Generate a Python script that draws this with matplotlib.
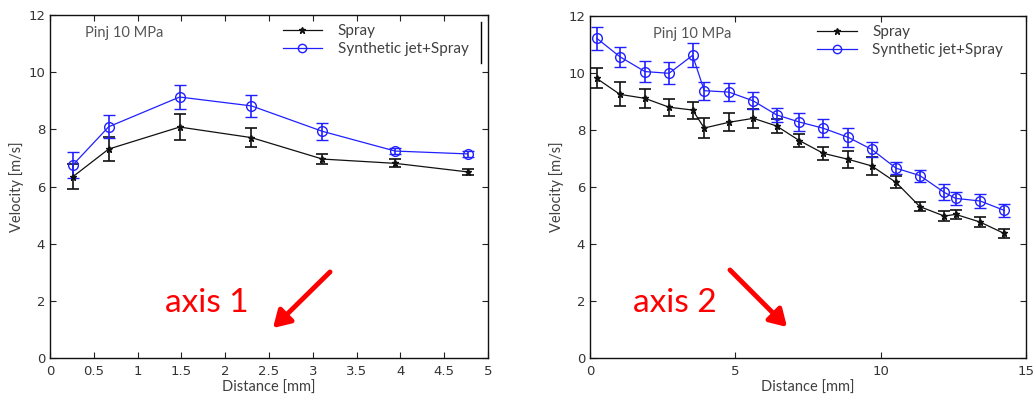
import numpy as np
import matplotlib
matplotlib.use("Agg")
import matplotlib.pyplot as plt
from matplotlib.lines import Line2D
from matplotlib.patches import FancyArrowPatch

# axis 1 data
x1 = [0.26, 0.67, 1.48, 2.30, 3.11, 3.94, 4.77]
spray1 = [6.34, 7.31, 8.08, 7.71, 6.96, 6.81, 6.51]
spray1_err = [0.43, 0.41, 0.44, 0.33, 0.16, 0.14, 0.10]
jet1 = [6.75, 8.09, 9.13, 8.82, 7.93, 7.24, 7.14]
jet1_err = [0.45, 0.41, 0.43, 0.38, 0.29, 0.12, 0.11]

# axis 2 data
x2 = [0.23, 1.03, 1.89, 2.72, 3.53, 3.93, 4.78, 5.62, 6.42, 7.20,
      8.03, 8.89, 9.69, 10.53, 11.35, 12.19, 12.58, 13.42, 14.25]
spray2 = [9.81, 9.25, 9.11, 8.80, 8.70, 8.07, 8.27, 8.41, 8.14, 7.63,
          7.18, 6.97, 6.74, 6.16, 5.31, 4.98, 5.04, 4.77, 4.37]
spray2_err = [0.35, 0.42, 0.34, 0.30, 0.30, 0.34, 0.32, 0.33, 0.25, 0.24,
              0.22, 0.31, 0.31, 0.21, 0.15, 0.18, 0.15, 0.18, 0.16]
jet2 = [11.22, 10.57, 10.05, 9.99, 10.62, 9.38, 9.33, 9.02, 8.53, 8.28,
        8.06, 7.74, 7.32, 6.66, 6.40, 5.81, 5.60, 5.51, 5.18]
jet2_err = [0.40, 0.35, 0.38, 0.38, 0.42, 0.31, 0.31, 0.30, 0.25, 0.33,
            0.31, 0.32, 0.27, 0.21, 0.21, 0.28, 0.23, 0.26, 0.23]

xticks1 = [0, 0.5, 1, 1.5, 2, 2.5, 3, 3.5, 4, 4.5, 5]
xticklabels1 = ['0', '0.5', '1', '1.5', '2', '2.5', '3', '3.5', '4', '4.5', '5']
xticks2 = [0, 5, 10, 15]
yticks = [0, 2, 4, 6, 8, 10, 12]

label_font = ['Lato', 'DejaVu Sans']
tick_color = '#333333'
blue = '#2020ff'

fig = plt.figure(figsize=(10.35, 4.03), dpi=100)
ax1 = fig.add_axes([50/1035, 45/403, 438/1035, 343/403])
ax2 = fig.add_axes([590/1035, 45/403, 436/1035, 342/403])


def draw(ax, x, sp, sp_e, jt, jt_e, xlim, xticks, xlabels, legx, pinjx):
    ax.errorbar(x, sp, yerr=sp_e, color='#111111', lw=0.9, marker='*', ms=5,
                capsize=4, elinewidth=1.2, capthick=1.2)
    ax.errorbar(x, jt, yerr=jt_e, color=blue, lw=0.9, marker='o', ms=7,
                mfc='none', mec=blue, mew=1.0, capsize=4, elinewidth=1.2,
                capthick=1.2)
    ax.set_xlim(*xlim)
    ax.set_ylim(0, 12)
    ax.set_xticks(xticks)
    ax.set_xticklabels(xlabels)
    ax.set_yticks(yticks)
    ax.tick_params(direction='in', top=True, right=True, length=4, width=0.8,
                   labelsize=9.5, colors='#222222', labelcolor=tick_color)
    ax.tick_params(axis='x', pad=5)
    for s in ax.spines.values():
        s.set_linewidth(1.0)
        s.set_color('#111111')
    ax.set_xlabel('Distance [mm]', family=label_font, fontsize=10.5,
                  color='#404040', labelpad=2)
    ax.set_ylabel('Velocity [m/s]', family=label_font, fontsize=10.5,
                  color='#404040', labelpad=3)
    ax.text(pinjx, 11.37, 'Pinj 10 MPa', family=label_font, fontsize=10.5,
            color='#555555', va='center')
    handles = [Line2D([], [], color='#111111', lw=0.9, marker='*', ms=5),
               Line2D([], [], color=blue, lw=0.9, marker='o', ms=6,
                      mfc='none', mec=blue)]
    leg = ax.legend(handles, ['Spray', 'Synthetic jet+Spray'], loc='upper left',
                    bbox_to_anchor=(legx, 1.0), frameon=False,
                    prop={'family': label_font, 'size': 11}, handlelength=2.6,
                    labelspacing=0.25, borderaxespad=0.2, handletextpad=1.0)
    for t in leg.get_texts():
        t.set_color('#404040')


draw(ax1, x1, spray1, spray1_err, jet1, jet1_err, (0, 5), xticks1, xticklabels1,
     0.51, 0.4)
draw(ax2, x2, spray2, spray2_err, jet2, jet2_err, (0, 15), xticks2,
     [str(t) for t in xticks2], 0.5, 2.17)

# stray legend-box edge in the first panel
ax1.plot([0.984, 0.984], [0.86, 0.98], transform=ax1.transAxes, color='black',
         lw=1.0, clip_on=False)

# red annotations
fig.text(207/1035, 1 - 312/403, 'axis 1', family=label_font, fontsize=24,
         color='#ff0000', ha='center', va='baseline')
fig.text(675/1035, 1 - 312/403, 'axis 2', family=label_font, fontsize=24,
         color='#ff0000', ha='center', va='baseline')
fig.patches.append(FancyArrowPatch(
    (332/1035, 1 - 270/403), (271/1035, 1 - 330/403), transform=fig.transFigure,
    arrowstyle='-|>,head_length=10,head_width=6', color='#ff0000', lw=3.5))
fig.patches.append(FancyArrowPatch(
    (728/1035, 1 - 268/403), (789/1035, 1 - 329/403), transform=fig.transFigure,
    arrowstyle='-|>,head_length=10,head_width=6', color='#ff0000', lw=3.5))

fig.savefig('out.png', dpi=100)
